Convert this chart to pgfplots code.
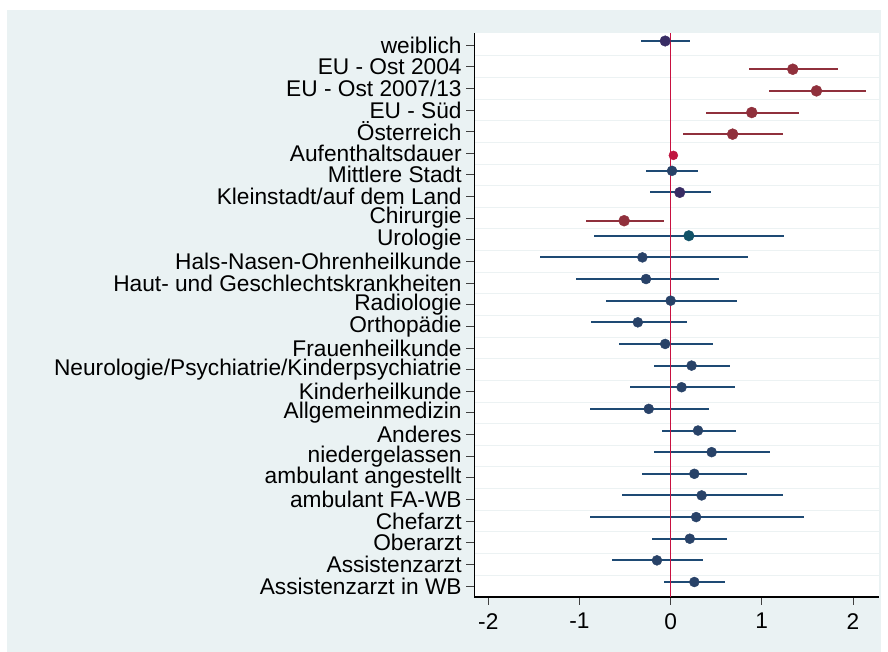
\documentclass[border=0pt]{standalone}
\usepackage{pgfplots}
\pgfplotsset{compat=1.18}
\usepackage{fontspec}
\setmainfont{Liberation Sans}
\definecolor{bgc}{RGB}{234,242,243}
\definecolor{navyc}{RGB}{30,74,116}
\definecolor{markc}{RGB}{40,66,104}
\definecolor{maroonc}{RGB}{144,48,60}
\definecolor{zeroc}{RGB}{200,16,64}
\definecolor{tealc}{RGB}{18,82,104}
\definecolor{purplec}{RGB}{56,44,100}
\definecolor{gridc}{RGB}{236,242,243}
\begin{document}
\begin{tikzpicture}[x=1pt,y=1pt]
\fill[white] (0,0) rectangle (888,652);
\fill[bgc] (7,0) rectangle (881,642);
\begin{axis}[
  at={(474.3pt,55pt)}, anchor=south west,
  scale only axis, width=404.7pt, height=564pt,
  xmin=-2.154, xmax=2.286, ymin=0.492, ymax=26.555,
  axis lines*=left,
  axis line style={black, line width=1.2pt},
  axis background/.style={fill=white},
  xtick={-2,-1,0,1,2},
  xticklabels={-2,-1,0,1,2},
  ytick={1,...,26},
  yticklabels={Assistenzarzt in WB,Assistenzarzt,Oberarzt,Chefarzt,ambulant FA-WB,ambulant angestellt,niedergelassen,Anderes,Allgemeinmedizin,Kinderheilkunde,Neurologie/Psychiatrie/Kinderpsychiatrie,Frauenheilkunde,Orthopädie,Radiologie,Haut- und Geschlechtskrankheiten,Hals-Nasen-Ohrenheilkunde,Urologie,Chirurgie,Kleinstadt/auf dem Land,Mittlere Stadt,Aufenthaltsdauer,Österreich,EU - Süd,EU - Ost 2007/13,EU - Ost 2004,weiblich},
  minor ytick={1.5,2.5,3.5,4.5,5.5,6.5,7.5,8.5,9.5,10.5,11.5,12.5,13.5,14.5,15.5,16.5,17.5,18.5,19.5,20.5,21.5,22.5,23.5,24.5,25.5},
  yminorgrids=true,
  minor grid style={color=gridc, line width=1pt},
  minor tick length=0pt,
  tick align=outside,
  major tick length=8pt,
  tick style={color=black!75, line width=0.8pt},
  tick label style={font=\fontsize{22.7}{25}\selectfont, text=black},
  yticklabel style={inner sep=0pt, xshift=-4.5pt},
  xticklabel style={inner sep=0pt, yshift=-8pt},
  clip=false,
]
% blue group (offset upward)
\addplot[only marks, mark=*, mark size=5pt, color=markc,
  error bars/.cd, x dir=both, x explicit, error mark=none,
  error bar style={line width=2pt, color=navyc}]
  table[x=est, y=y, x error plus expr=\thisrow{hi}-\thisrow{est}, x error minus expr=\thisrow{est}-\thisrow{lo}] {
y est lo hi
20.185 0.015 -0.27 0.30
16.185 -0.31 -1.43 0.85
15.185 -0.27 -1.04 0.53
14.185 0.00 -0.71 0.73
13.185 -0.36 -0.87 0.18
12.185 -0.06 -0.57 0.46
11.185 0.23 -0.18 0.65
10.185 0.12 -0.45 0.71
9.185 -0.24 -0.89 0.42
8.185 0.30 -0.10 0.72
7.185 0.45 -0.18 1.09
6.185 0.26 -0.31 0.84
5.185 0.34 -0.53 1.23
4.185 0.28 -0.88 1.46
3.185 0.21 -0.20 0.62
2.185 -0.15 -0.64 0.36
1.185 0.26 -0.07 0.60
};
% purple-navy group
\addplot[only marks, mark=*, mark size=5.3pt, color=purplec,
  error bars/.cd, x dir=both, x explicit, error mark=none,
  error bar style={line width=2pt, color=navyc}]
  table[x=est, y=y, x error plus expr=\thisrow{hi}-\thisrow{est}, x error minus expr=\thisrow{est}-\thisrow{lo}] {
y est lo hi
26.185 -0.06 -0.32 0.21
19.185 0.10 -0.23 0.44
};
% teal
\addplot[only marks, mark=*, mark size=5.3pt, color=tealc,
  error bars/.cd, x dir=both, x explicit, error mark=none,
  error bar style={line width=2pt, color=navyc}]
  table[x=est, y=y, x error plus expr=\thisrow{hi}-\thisrow{est}, x error minus expr=\thisrow{est}-\thisrow{lo}] {
y est lo hi
17.185 0.20 -0.84 1.24
};
% maroon group (offset downward)
\addplot[only marks, mark=*, mark size=5.5pt, color=maroonc,
  error bars/.cd, x dir=both, x explicit, error mark=none,
  error bar style={line width=2pt, color=maroonc}]
  table[x=est, y=y, x error plus expr=\thisrow{hi}-\thisrow{est}, x error minus expr=\thisrow{est}-\thisrow{lo}] {
y est lo hi
24.88 1.34 0.86 1.84
23.88 1.60 1.08 2.14
22.88 0.89 0.39 1.41
21.88 0.68 0.14 1.23
17.88 -0.51 -0.93 -0.07
};
% zero line
\addplot[color=zeroc, line width=1.6pt] coordinates {(0,0.492) (0,26.555)};
% Aufenthaltsdauer
\addplot[only marks, mark=*, mark size=4.5pt, color=zeroc!85!maroonc,
  error bars/.cd, x dir=both, x explicit, error mark=none,
  error bar style={line width=2pt, color=zeroc}]
  table[x=est, y=y, x error plus expr=\thisrow{hi}-\thisrow{est}, x error minus expr=\thisrow{est}-\thisrow{lo}] {
y est lo hi
20.9 0.03 0.02 0.04
};
\end{axis}
\end{tikzpicture}
\end{document}
